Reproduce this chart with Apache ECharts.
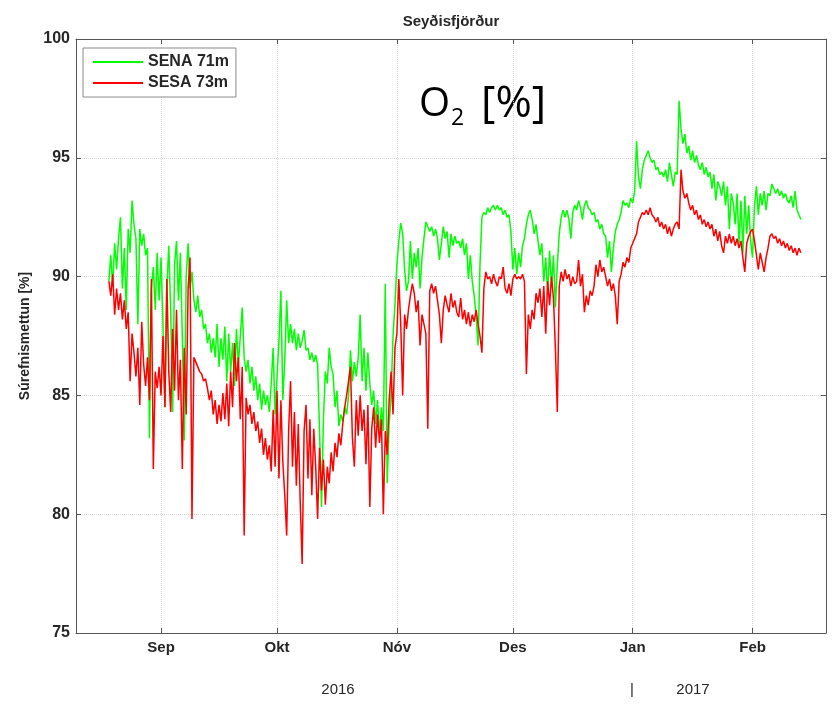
<!DOCTYPE html>
<html>
<head>
<meta charset="utf-8">
<script src="https://cdn.jsdelivr.net/npm/echarts@6/dist/echarts.min.js"></script>
<style>
html,body{margin:0;padding:0;background:#fff;}
#chart{width:833px;height:705px;}
</style>
</head>
<body>
<div id="chart"></div>
<script>
// Days counted from 1 Sep 2016 (day 0); samples every half day
const startDay = -13.5;
const stepDay = 0.5;
const monthDays = [0, 30, 61, 91, 122, 153];
const monthLabels = ['Sep', 'Okt', 'Nóv', 'Des', 'Jan', 'Feb'];
const yTicks = [75, 80, 85, 90, 95, 100];
const seriesNames = ['SENA 71m', 'SESA 73m'];

const senaValues = [
89.8,90.9,89.6,91.4,90.3,91.6,92.5,89.5,91.2,88.6,
92.0,91.0,93.2,92.2,91.6,88.0,92.0,91.3,91.8,90.9,
91.2,83.2,89.5,90.4,88.6,91.0,89.0,90.8,88.0,84.5,
89.5,91.3,88.5,84.3,90.5,91.5,89.0,91.0,87.5,83.1,
90.0,91.4,89.5,90.2,89.0,88.5,89.2,88.3,88.6,87.8,
88.0,87.2,87.6,86.8,87.4,86.6,88.0,86.2,87.4,86.5,
87.9,85.6,87.6,86.0,87.2,85.4,87.8,86.3,87.5,88.7,
86.6,86.0,86.5,85.5,86.2,85.2,85.8,84.8,85.5,84.4,
85.2,84.6,85.0,84.3,85.5,87.0,84.2,85.8,87.3,89.4,
84.8,86.5,89.0,87.2,88.0,87.2,87.8,86.9,87.6,87.0,
87.3,87.75,86.9,87.0,86.5,86.8,86.4,86.7,86.3,83.5,
80.3,84.0,86.0,85.5,87.0,86.2,85.9,84.5,85.2,83.7,
84.2,83.9,84.5,84.2,85.0,86.9,85.6,86.4,85.8,86.6,
88.4,85.6,87.0,85.2,86.8,85.5,84.6,85.2,83.8,84.8,
83.4,84.5,83.5,89.7,81.3,83.8,85.0,87.5,88.8,90.5,
91.5,92.25,91.8,90.3,89.4,89.8,91.5,89.9,91.0,90.4,
91.2,89.5,90.8,91.6,92.3,92.1,91.9,92.1,91.7,92.0,
91.6,90.7,91.4,92.1,91.6,91.9,90.8,91.8,91.3,91.7,
91.4,91.5,91.2,91.6,90.9,91.4,89.9,90.9,89.8,89.2,
88.3,87.1,90.5,92.5,92.7,92.6,92.9,92.7,92.9,93.0,
92.8,93.0,92.8,92.9,92.6,92.8,92.5,92.6,91.9,90.3,
91.2,90.1,91.0,90.4,91.3,91.6,92.2,92.6,92.8,92.4,
91.8,92.2,91.5,90.9,91.4,89.8,90.8,89.3,91.1,89.6,
90.9,88.7,90.5,91.8,92.5,92.8,92.5,92.8,92.4,91.6,
92.7,93.0,92.8,93.2,92.9,92.4,93.0,93.2,92.9,92.8,
92.6,92.7,92.3,92.4,92.0,92.2,91.8,91.7,90.8,91.5,
90.2,91.2,91.9,92.2,92.4,92.7,93.2,93.0,93.1,92.9,
93.3,93.1,93.6,95.7,94.2,93.7,94.5,94.9,95.1,95.3,
95.0,94.8,94.9,94.5,94.6,94.3,94.4,94.2,94.5,94.0,
94.8,94.3,93.8,94.4,94.3,97.4,96.2,95.6,96.0,95.2,
95.5,94.9,95.3,94.8,95.1,94.7,94.5,94.8,94.3,94.6,
94.2,94.4,93.7,94.3,93.2,94.0,93.8,93.4,94.0,93.0,
93.8,92.0,93.5,93.1,92.2,93.5,91.4,93.2,91.0,93.4,
91.8,93.0,91.5,90.8,93.0,93.8,92.6,93.5,93.0,93.6,
92.8,93.5,93.4,93.9,93.7,93.5,93.7,93.4,93.6,93.3,
93.5,93.2,93.1,93.4,92.9,93.6,92.8,92.6,92.4
];

const sesaValues = [
89.8,89.2,90.1,88.4,89.5,88.6,89.3,88.2,89.0,87.8,
88.5,85.6,87.6,86.8,85.8,87.0,84.6,88.1,86.3,85.4,
86.6,84.8,89.9,81.9,86.0,85.3,86.2,85.0,87.5,84.5,
89.9,86.0,84.3,87.8,85.2,88.6,84.8,86.5,81.9,87.0,
84.2,89.5,90.8,79.8,86.6,86.4,86.2,86.0,85.9,85.6,
85.7,85.3,84.8,85.2,84.2,84.8,83.8,84.6,83.9,85.1,
84.0,85.5,83.7,86.0,84.5,87.2,85.6,86.6,84.0,86.2,
79.1,84.9,84.2,84.6,83.8,84.3,83.5,83.9,83.0,83.6,
82.5,83.2,82.3,82.9,81.8,84.4,82.0,85.2,81.5,84.8,
82.2,80.8,79.1,83.5,85.6,82.0,84.3,81.2,83.8,80.5,
77.9,83.5,84.6,81.5,84.0,80.8,83.6,82.0,79.8,82.8,
81.0,82.3,80.4,82.0,81.3,82.6,81.8,83.0,82.4,83.4,
82.9,83.8,84.5,85.0,85.6,86.2,83.2,82.0,84.8,83.3,
85.0,83.5,84.4,82.1,84.6,80.3,83.6,84.5,82.8,84.2,
83.0,84.0,80.0,83.5,82.5,84.8,86.0,84.2,87.0,87.6,
89.9,88.0,85.0,88.4,87.8,88.6,89.2,89.7,89.3,88.5,
89.0,87.1,88.4,88.0,87.6,83.6,89.4,89.7,89.3,89.6,
89.0,88.4,87.2,88.6,89.2,88.8,88.5,89.3,88.7,89.0,
88.5,88.3,89.1,88.2,88.6,88.0,88.5,87.9,88.4,88.1,
88.6,88.0,87.5,86.8,89.5,90.2,89.9,90.0,89.7,90.1,
89.8,89.6,90.0,89.9,90.4,89.5,89.3,89.7,89.2,89.9,
90.1,89.9,90.0,89.9,90.1,89.8,85.9,88.4,87.8,88.6,
88.2,89.3,88.9,89.5,88.3,89.6,87.6,89.8,88.8,90.0,
89.1,87.0,84.3,89.6,90.2,89.8,90.3,89.9,90.1,89.6,
90.0,89.7,89.8,90.7,89.6,90.1,88.5,89.2,88.8,89.4,
89.2,89.6,90.5,90.0,90.7,90.2,90.4,90.0,89.6,89.9,
89.4,89.7,89.2,88.0,89.8,90.1,90.6,90.4,90.8,90.6,
91.2,91.4,91.6,91.8,92.3,92.5,92.7,92.6,92.8,92.6,
92.9,92.6,92.5,92.3,92.5,92.1,92.3,92.0,92.2,91.8,
92.1,91.7,92.0,92.2,92.3,92.0,94.5,93.6,93.3,93.5,
93.1,92.8,93.0,92.6,92.8,92.4,92.6,92.2,92.4,92.1,
92.3,92.0,92.2,91.7,92.0,91.5,91.9,91.3,91.0,91.7,
91.4,91.8,91.4,91.7,91.3,91.6,91.2,91.5,90.8,90.2,
91.4,91.7,91.9,92.0,91.5,90.9,90.3,91.0,90.6,90.2,
90.8,91.2,91.7,91.8,91.6,91.7,91.4,91.6,91.3,91.5,
91.2,91.4,91.1,91.3,91.0,91.2,90.9,91.2,91.0
];

function toPairs(vals) {
  return vals.map((v, i) => [startDay + i * stepDay, v]);
}

const FONT = "'Liberation Sans', Arial, Helvetica, sans-serif";
const BIG = "'Open Sans', 'Noto Sans', sans-serif";
const AXC = '#555555';
const TXT = '#262626';

const chart = echarts.init(document.getElementById('chart'), null, {renderer: 'canvas'});

const option = {
  backgroundColor: '#ffffff',
  animation: false,
  grid: {left: 76, top: 39, right: 7, bottom: 72, containLabel: false},
  legend: {
    orient: 'vertical',
    left: 83, top: 48,
    padding: [5, 7, 5, 10],
    itemGap: 3,
    itemWidth: 50,
    itemHeight: 2,
    icon: 'rect',
    backgroundColor: '#ffffff',
    borderColor: '#8a8a8a',
    borderWidth: 1,
    textStyle: {fontFamily: FONT, fontWeight: 'bold', fontSize: 16, color: TXT, lineHeight: 18},
    data: seriesNames
  },
  xAxis: [{
    type: 'value', min: -22, max: 172, position: 'bottom',
    axisLine: {show: true, onZero: false, lineStyle: {color: AXC, width: 1}},
    axisTick: {show: true, inside: true, length: 5, customValues: monthDays, lineStyle: {color: AXC}},
    axisLabel: {
      show: true, customValues: monthDays, margin: 7,
      formatter: function (v) { const i = monthDays.indexOf(v); return i >= 0 ? monthLabels[i] : ''; },
      fontFamily: FONT, fontWeight: 'bold', fontSize: 15, color: TXT
    },
    splitLine: {show: true, lineStyle: {color: '#d6d6d6', type: 'dotted', width: 1}}
  }, {
    type: 'value', min: -22, max: 172, position: 'top',
    axisLine: {show: true, onZero: false, lineStyle: {color: AXC, width: 1}},
    axisTick: {show: true, inside: true, length: 5, customValues: monthDays, lineStyle: {color: AXC}},
    axisLabel: {show: false},
    splitLine: {show: false}
  }],
  yAxis: [{
    type: 'value', min: 75, max: 100, interval: 5, position: 'left',
    name: 'Súrefnismettun [%]', nameLocation: 'middle', nameGap: 44, nameRotate: 90,
    nameTextStyle: {fontFamily: FONT, fontWeight: 'bold', fontSize: 14, color: TXT},
    axisLine: {show: true, onZero: false, lineStyle: {color: AXC, width: 1}},
    axisTick: {show: true, inside: true, length: 5, lineStyle: {color: AXC}},
    axisLabel: {fontFamily: FONT, fontWeight: 'bold', fontSize: 16, color: TXT, margin: 6},
    splitLine: {show: true, lineStyle: {color: '#d6d6d6', type: 'dotted', width: 1}}
  }, {
    type: 'value', min: 75, max: 100, interval: 5, position: 'right',
    axisLine: {show: true, onZero: false, lineStyle: {color: AXC, width: 1}},
    axisTick: {show: true, inside: true, length: 5, lineStyle: {color: AXC}},
    axisLabel: {show: false},
    splitLine: {show: false}
  }],
  series: [{
    name: seriesNames[0], type: 'line', xAxisIndex: 0, yAxisIndex: 0,
    data: toPairs(senaValues), showSymbol: false, symbol: 'none',
    lineStyle: {color: '#00ff00', width: 1.5}, itemStyle: {color: '#00ff00'}
  }, {
    name: seriesNames[1], type: 'line', xAxisIndex: 0, yAxisIndex: 0,
    data: toPairs(sesaValues), showSymbol: false, symbol: 'none',
    lineStyle: {color: '#ff0000', width: 1.5}, itemStyle: {color: '#ff0000'}
  }],
  graphic: [{
    type: 'text', x: 451, y: 22,
    style: {text: 'Seyðisfjörður', fontFamily: FONT, fontWeight: 'bold', fontSize: 15, fill: TXT, align: 'center', verticalAlign: 'middle'}
  }, {
    type: 'text', x: 419, y: 105,
    style: {text: 'O', fontFamily: BIG, fontSize: 40, fill: '#000', align: 'left', verticalAlign: 'middle'}
  }, {
    type: 'text', x: 451, y: 118,
    style: {text: '2', fontFamily: BIG, fontSize: 23, fill: '#000', align: 'left', verticalAlign: 'middle'}
  }, {
    type: 'text', x: 481, y: 104,
    style: {text: '[%]', fontFamily: BIG, fontSize: 44, fill: '#000', align: 'left', verticalAlign: 'middle'}
  }, {
    type: 'text', x: 338, y: 690,
    style: {text: '2016', fontFamily: FONT, fontSize: 15, fill: TXT, align: 'center', verticalAlign: 'middle'}
  }, {
    type: 'text', x: 632, y: 690,
    style: {text: '|', fontFamily: FONT, fontSize: 15, fill: TXT, align: 'center', verticalAlign: 'middle'}
  }, {
    type: 'text', x: 693, y: 690,
    style: {text: '2017', fontFamily: FONT, fontSize: 15, fill: TXT, align: 'center', verticalAlign: 'middle'}
  }]
};

chart.setOption(option);
</script>
</body>
</html>
